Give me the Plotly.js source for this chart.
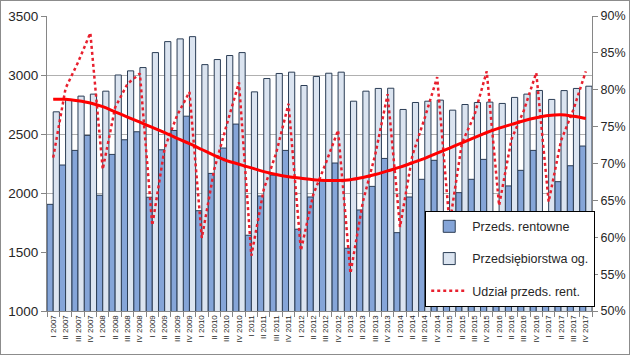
<!DOCTYPE html>
<html>
<head>
<meta charset="utf-8">
<script src="https://cdn.plot.ly/plotly-3.0.1.min.js"></script>
<style>
  html, body { margin: 0; padding: 0; background: #fff; }
  #wrap { position: relative; width: 630px; height: 355px; }
  #chart { width: 630px; height: 355px; }
  #frame { position: absolute; left: 0; top: 0; width: 630px; height: 355px; box-sizing: border-box; border: 1px solid #8c8c8c; pointer-events: none; }
</style>
</head>
<body>
<div id="wrap"><div id="chart"></div><div id="frame"></div></div>
<script>
const categories = ['I 2007','II 2007','III 2007','IV 2007','I 2008','II 2008','III 2008','IV 2008',
  'I 2009','II 2009','III 2009','IV 2009','I 2010','II 2010','III 2010','IV 2010',
  'I 2011','II 2011','III 2011','IV 2011','I 2012','II 2012','III 2012','IV 2012',
  'I 2013','II 2013','III 2013','IV 2013','I 2014','II 2014','III 2014','IV 2014',
  'I 2015','II 2015','III 2015','IV 2015','I 2016','II 2016','III 2016','IV 2016',
  'I 2017','II 2017','III 2017','IV 2017'];

const rentowne = [1904,2237,2361,2488,1981,2327,2451,2519,1964,2366,2530,2651,1850,2166,2381,2584,
  1642,1975,2152,2361,1693,1966,2110,2254,1532,1856,2056,2293,1664,1966,2116,2277,
  1667,2003,2116,2285,1775,2060,2192,2361,1810,2096,2231,2398];

const ogolem = [2688,2790,2821,2838,2863,3000,3035,3063,3190,3283,3306,3325,3088,3131,3165,3190,
  2857,2970,3013,3024,2911,2987,3015,3024,2778,2863,2886,2888,2708,2767,2778,2787,
  2702,2750,2767,2770,2759,2810,2838,2869,2793,2868,2886,2905];

const udzial = [70.8,80.2,83.7,87.7,69.2,77.6,80.8,82.2,61.6,72.1,76.5,79.7,59.9,69.2,75.2,81.0,
  57.5,66.5,71.4,78.1,58.2,65.8,70.0,74.5,55.1,64.8,71.2,79.4,61.4,71.1,76.2,81.7,
  61.7,72.8,76.5,82.5,64.3,73.3,77.2,82.3,64.8,73.1,77.3,82.5];

const trend = [78.7,78.7,78.5,78.2,77.7,77.0,76.3,75.6,74.9,74.2,73.4,72.7,71.9,71.1,70.4,69.9,
  69.4,68.9,68.5,68.2,68.0,67.8,67.7,67.7,67.8,68.1,68.5,69.0,69.5,70.1,70.7,71.4,
  72.1,72.8,73.5,74.2,74.8,75.3,75.8,76.2,76.5,76.6,76.4,76.1];

const fontFam = 'Liberation Sans, Arial, sans-serif';
const txt = '#262626';

const traces = [
  {
    type: 'bar', name: 'Przeds. rentowne', x: categories, y: rentowne,
    marker: { color: '#85a5d8', line: { color: '#2b3d55', width: 1 } },
    legendgroup: 'a'
  },
  {
    type: 'bar', name: 'Przedsiębiorstwa og.', x: categories, y: ogolem,
    marker: { color: '#dbe4f0', line: { color: '#2b3d55', width: 1 } },
    legendgroup: 'b'
  },
  {
    type: 'scatter', mode: 'lines', name: 'Udział przeds. rent.', x: categories, y: udzial,
    yaxis: 'y2', line: { color: '#e8202e', width: 2.5, dash: 'dot' },
    legendgroup: 'c'
  },
  {
    type: 'scatter', mode: 'lines', name: 'trend', x: categories, y: trend,
    yaxis: 'y2', line: { color: '#ff0000', width: 3, shape: 'spline', smoothing: 1 },
    showlegend: false, hoverinfo: 'skip'
  }
];

const layout = {
  width: 630, height: 355,
  margin: { l: 47, r: 38, t: 16, b: 44 },
  paper_bgcolor: '#ffffff', plot_bgcolor: '#ffffff',
  font: { family: fontFam, color: txt, size: 12 },
  barmode: 'group', bargap: 0, bargroupgap: 0,
  xaxis: {
    type: 'category', tickangle: -90, tickfont: { size: 8, color: txt },
    showgrid: false, showline: true, linecolor: '#868686', linewidth: 1,
    ticks: 'outside', tickson: 'boundaries', ticklen: 5, tickcolor: '#868686',
    zeroline: false
  },
  yaxis: {
    range: [1000, 3500], dtick: 500, tickfont: { size: 13.5, color: txt },
    showgrid: true, gridcolor: '#b0b0b0', gridwidth: 1,
    showline: true, linecolor: '#868686', linewidth: 1,
    ticks: 'outside', ticklen: 5, tickcolor: '#868686', zeroline: false
  },
  yaxis2: {
    overlaying: 'y', side: 'right', range: [50, 90], dtick: 5, ticksuffix: '%',
    tickfont: { size: 12.5, color: txt }, showgrid: false,
    showline: true, linecolor: '#868686', linewidth: 1,
    ticks: 'outside', ticklen: 5, tickcolor: '#868686', zeroline: false
  },
  legend: {
    x: 0.694, y: 0.34, xanchor: 'left', yanchor: 'top',
    bgcolor: '#ffffff', bordercolor: '#000000', borderwidth: 1,
    font: { size: 12.5, color: txt, family: fontFam },
    traceorder: 'grouped', tracegroupgap: 13, itemwidth: 36
  },
  showlegend: true
};

Plotly.newPlot('chart', traces, layout, { displayModeBar: false, staticPlot: true });
</script>
</body>
</html>
